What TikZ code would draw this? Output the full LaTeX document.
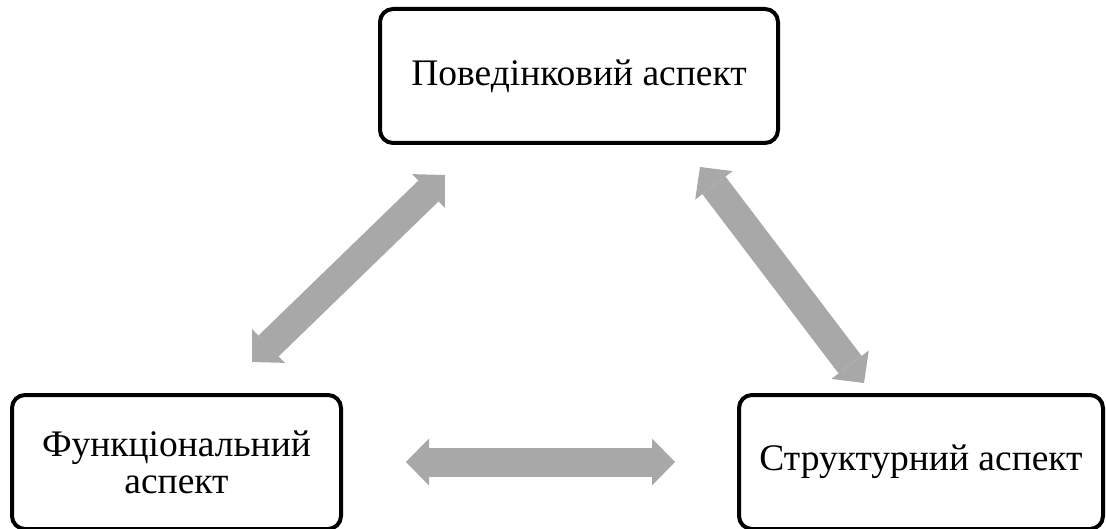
\documentclass[tikz,border=0pt]{standalone}
\usepackage{fontspec}
\setmainfont{Liberation Serif}
\usetikzlibrary{arrows.meta}
\definecolor{arrowgray}{HTML}{A8A8A8}
\tikzset{
  aspectbox/.style={draw=black, line width=4pt, rounded corners=13pt, fill=white,
    inner sep=0pt, align=center, font=\fontsize{37.5}{37}\selectfont},
  blockarrow/.style={draw=arrowgray, line width=29pt,
    {Triangle[width=47pt,length=23pt,line width=0pt,fill=arrowgray]}-{Triangle[width=47pt,length=23pt,line width=0pt,fill=arrowgray]}}
}
\begin{document}
\begin{tikzpicture}[x=1pt,y=-1pt]
  \useasboundingbox (0,0) rectangle (1106,529);
  \clip (0,0) rectangle (1106,529);
  \node[aspectbox, minimum width=398pt, minimum height=134pt] (top) at (579,76) {Поведінковий аспект};
  \node[aspectbox, minimum width=329pt, minimum height=134pt] (left) at (176.5,462) {Функціональний\\аспект};
  \node[aspectbox, minimum width=364pt, minimum height=134pt] (right) at (921,462) {Структурний аспект};
  \coordinate (a1s) at (252,362);
  \coordinate (a1e) at (445,175);
  \coordinate (a2s) at (700,167);
  \coordinate (a2e) at (864,383);
  \coordinate (a3s) at (406,462);
  \coordinate (a3e) at (675,462);
  \draw[blockarrow] (a1s) -- (a1e);
  \draw[blockarrow] (a2s) -- (a2e);
  \draw[blockarrow] (a3s) -- (a3e);
\end{tikzpicture}
\end{document}
